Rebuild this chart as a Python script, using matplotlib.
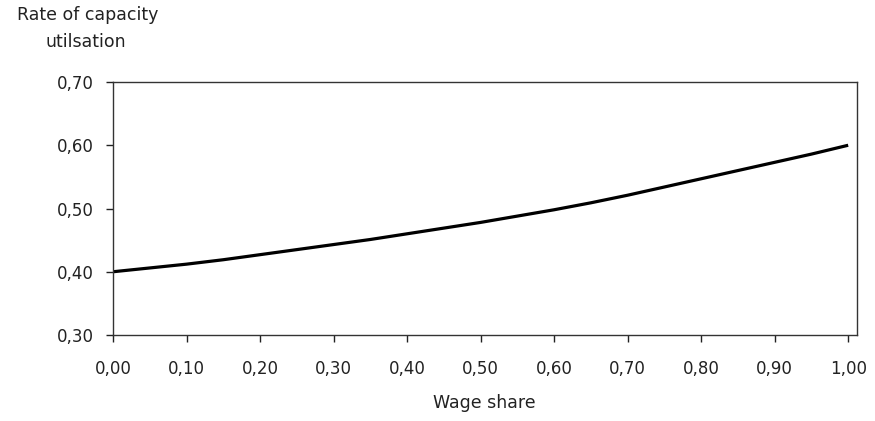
import matplotlib
matplotlib.use("Agg")
import matplotlib.pyplot as plt

wage_share = [0.00, 0.05, 0.10, 0.15, 0.20, 0.25, 0.30, 0.35, 0.40, 0.45, 0.50,
              0.55, 0.60, 0.65, 0.70, 0.75, 0.80, 0.85, 0.90, 0.95, 1.00]
utilisation = [0.400, 0.406, 0.412, 0.419, 0.427, 0.435, 0.443, 0.451, 0.460, 0.469, 0.478,
               0.488, 0.498, 0.509, 0.521, 0.534, 0.547, 0.560, 0.573, 0.586, 0.600]

x_ticks = [0.0, 0.1, 0.2, 0.3, 0.4, 0.5, 0.6, 0.7, 0.8, 0.9, 1.0]
x_tick_labels = ["0,00", "0,10", "0,20", "0,30", "0,40", "0,50", "0,60", "0,70", "0,80", "0,90", "1,00"]
y_ticks = [0.3, 0.4, 0.5, 0.6, 0.7]
y_tick_labels = ["0,30", "0,40", "0,50", "0,60", "0,70"]

plt.rcParams['font.family'] = ['DejaVu Sans']
fig = plt.figure(figsize=(8.75, 4.21), dpi=100)
ax = fig.add_axes([113/875, 1 - 335/421, (857-113)/875, (335-82)/421])

ax.plot(wage_share, utilisation, color='black', linewidth=2.3, solid_capstyle='butt')
ax.set_xlim(0, 1.012)
ax.set_ylim(0.3, 0.7)
ax.set_xticks(x_ticks)
ax.set_xticklabels(x_tick_labels)
ax.set_yticks(y_ticks)
ax.set_yticklabels(y_tick_labels)
for s in ax.spines.values():
    s.set_color('#333333')
    s.set_linewidth(1.0)
ax.tick_params(axis='x', direction='out', length=5, width=1, pad=13, labelsize=12, colors='#222222')
ax.tick_params(axis='y', direction='out', length=5, width=1, pad=9, labelsize=12, colors='#222222')

fig.text(88/875, 1 - 15/421, "Rate of capacity", ha='center', va='center', fontsize=12.5, color='#222222')
fig.text(86/875, 1 - 42/421, "utilsation", ha='center', va='center', fontsize=12.5, color='#222222')
fig.text(484/875, 1 - 403/421, "Wage share", ha='center', va='center', fontsize=12.5, color='#222222')

fig.savefig("out.png", dpi=100)
